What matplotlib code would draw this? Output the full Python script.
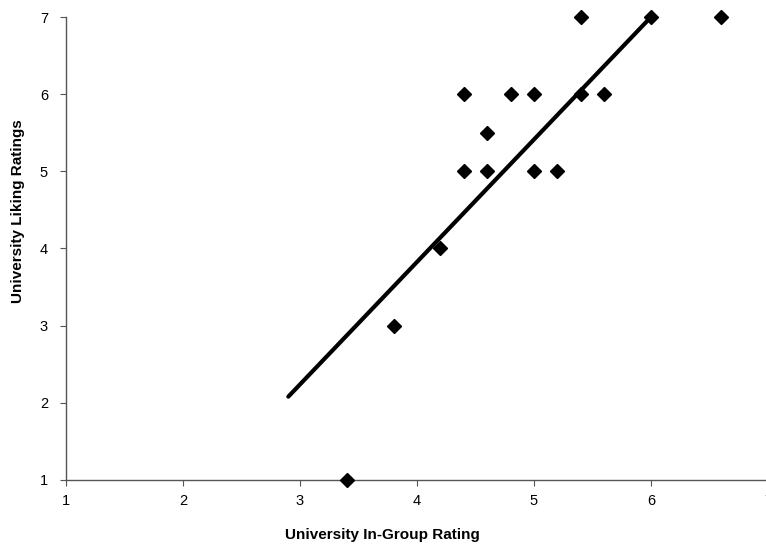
import numpy as np
import matplotlib.pyplot as plt

plt.rcParams['font.family'] = ['Liberation Sans', 'DejaVu Sans']

# data
ingroup = [3.4, 3.8, 4.2, 4.4, 4.4, 4.6, 4.6, 4.8, 5.0, 5.0, 5.2, 5.4, 5.4, 5.6, 6.0, 6.6]
liking = [1, 3, 4, 5, 6, 5.5, 5, 6, 6, 5, 5, 7, 6, 6, 7, 7]
fit_x = [2.9, 6.0]
fit_y = [2.08, 7.0]

fig = plt.figure(figsize=(7.66, 5.45), dpi=100)
ax = fig.add_axes([0.0862, 0.1193, 0.9164, 0.8495])

ax.plot(fit_x, fit_y, color='black', lw=3, solid_capstyle='round', zorder=2)
ax.plot(ingroup, liking, 'D', color='black', ms=7.5, zorder=3, clip_on=False)

ax.set_xlim(1, 7)
ax.set_ylim(1, 7)
ax.set_xticks(range(1, 8))
ax.set_yticks(range(1, 8))

for s in ['top', 'right']:
    ax.spines[s].set_visible(False)
for s in ['left', 'bottom']:
    ax.spines[s].set_color('#555555')
    ax.spines[s].set_linewidth(1)
ax.tick_params(direction='out', length=4, color='#555555', labelsize=10.5)
ax.tick_params(axis='x', pad=6)
ax.tick_params(axis='y', pad=9)

ax.set_xlabel('University In-Group Rating', fontweight='bold', fontsize=11)
ax.set_ylabel('University Liking Ratings', fontweight='bold', fontsize=11)
# place the axis titles where the reference has them (pixels -> figure fraction)
ax.xaxis.set_label_coords(382 / 766, (545 - 535) / 545, transform=fig.transFigure)
ax.yaxis.set_label_coords(18 / 766, (545 - 211) / 545, transform=fig.transFigure)
ax.xaxis.label.set_va('center')
ax.yaxis.label.set_va('center')

fig.savefig('out.png', dpi=100)
